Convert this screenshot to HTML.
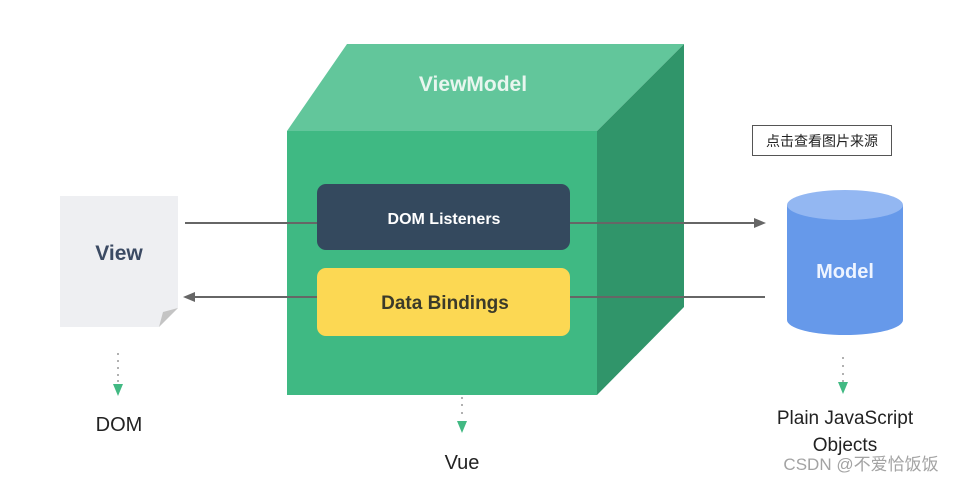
<!DOCTYPE html>
<html><head><meta charset="utf-8"><style>
html,body{margin:0;padding:0;background:#fff;}
svg{display:block;}
text{font-family:"Liberation Sans","Noto Sans CJK SC",sans-serif;}
</style></head><body>
<svg width="961" height="482" viewBox="0 0 961 482" xmlns="http://www.w3.org/2000/svg">
<rect width="961" height="482" fill="#fff"/>
<!-- cube -->
<polygon points="287,131 347,44 684,44 597,131" fill="#62c69b"/>
<polygon points="597,131 684,44 684,307 597,395" fill="#30956a"/>
<rect x="287" y="131" width="310" height="264" fill="#3fb983"/>
<text x="473" y="91" text-anchor="middle" font-size="21" font-weight="bold" fill="#e8f6ef">ViewModel</text>
<!-- arrows -->
<line x1="185" y1="223" x2="758" y2="223" stroke="#666" stroke-width="2"/>
<polygon points="766,223 754,218 754,228" fill="#666"/>
<line x1="765" y1="297" x2="192" y2="297" stroke="#666" stroke-width="2"/>
<polygon points="183,297 195,292 195,302" fill="#666"/>
<!-- inner boxes -->
<rect x="317" y="184" width="253" height="66" rx="9" fill="#34495e"/>
<text x="444" y="224" text-anchor="middle" font-size="16" font-weight="bold" fill="#fff">DOM Listeners</text>
<rect x="317" y="268" width="253" height="68" rx="9" fill="#fcd853"/>
<text x="445" y="309" text-anchor="middle" font-size="19" font-weight="bold" fill="#3b3a2a">Data Bindings</text>
<!-- view doc -->
<polygon points="60,196 178,196 178,308 159,327 60,327" fill="#eeeff2"/>
<polygon points="178,308 159,327 163,312" fill="#c4c4c4"/>
<text x="119" y="260" text-anchor="middle" font-size="21" font-weight="bold" fill="#3b4a63">View</text>
<!-- cylinder -->
<path d="M787,205 L787,320 A58,15 0 0 0 903,320 L903,205 Z" fill="#6699ea"/>
<ellipse cx="845" cy="205" rx="58" ry="15" fill="#93b7f2"/>
<text x="845" y="278" text-anchor="middle" font-size="20" font-weight="bold" fill="#eef4ff">Model</text>
<!-- label box -->
<rect x="752.5" y="125.5" width="139" height="30" fill="#fff" stroke="#555" stroke-width="1"/>
<text x="822" y="146" text-anchor="middle" font-size="14" fill="#222">点击查看图片来源</text>
<!-- dotted arrows -->
<g fill="#999">
<circle cx="118" cy="354" r="1"/><circle cx="118" cy="361" r="1"/><circle cx="118" cy="368" r="1"/><circle cx="118" cy="375" r="1"/><circle cx="118" cy="381" r="1"/>
<circle cx="462" cy="398" r="1"/><circle cx="462" cy="405" r="1"/><circle cx="462" cy="413" r="1"/>
<circle cx="843" cy="358" r="1"/><circle cx="843" cy="366" r="1"/><circle cx="843" cy="374" r="1"/><circle cx="843" cy="381" r="1"/>
</g>
<polygon points="113,384 123,384 118,396" fill="#42b983"/>
<polygon points="457,421 467,421 462,433" fill="#42b983"/>
<polygon points="838,382 848,382 843,394" fill="#42b983"/>
<text x="119" y="431" text-anchor="middle" font-size="20" fill="#222">DOM</text>
<text x="462" y="469" text-anchor="middle" font-size="20" fill="#222">Vue</text>
<text x="845" y="424" text-anchor="middle" font-size="19" fill="#222">Plain JavaScript</text>
<text x="845" y="451" text-anchor="middle" font-size="19" fill="#222">Objects</text>
<text x="861" y="470" text-anchor="middle" font-size="17" fill="#999" fill-opacity="0.9">CSDN @不爱恰饭饭</text>
</svg>
</body></html>
